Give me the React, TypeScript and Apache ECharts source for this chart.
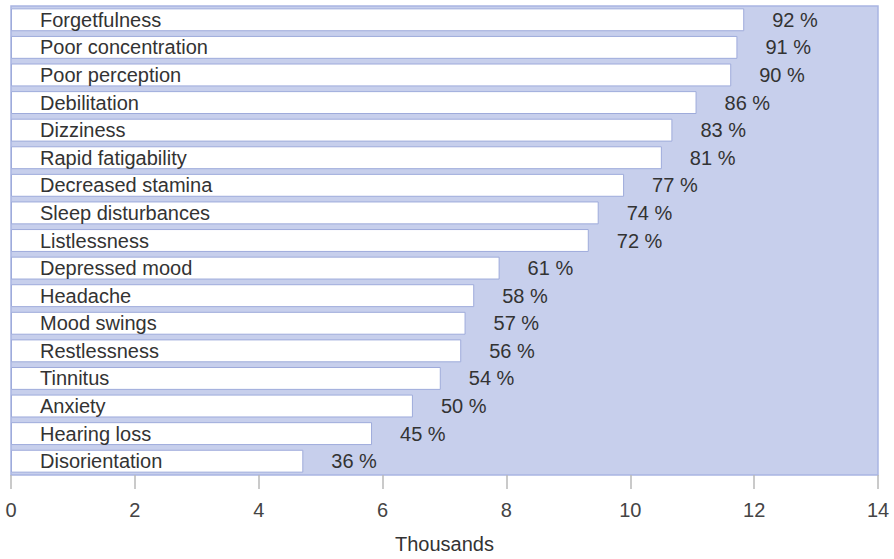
import React, { useEffect, useRef } from "react";
import * as echarts from "echarts";

const categories = [
  "Forgetfulness",
  "Poor concentration",
  "Poor perception",
  "Debilitation",
  "Dizziness",
  "Rapid fatigability",
  "Decreased stamina",
  "Sleep disturbances",
  "Listlessness",
  "Depressed mood",
  "Headache",
  "Mood swings",
  "Restlessness",
  "Tinnitus",
  "Anxiety",
  "Hearing loss",
  "Disorientation",
];

const thousands = [
  11.84, 11.73, 11.63, 11.07, 10.68, 10.51, 9.9, 9.49, 9.33, 7.89, 7.48, 7.34,
  7.27, 6.94, 6.49, 5.83, 4.72,
];

const percents = [92, 91, 90, 86, 83, 81, 77, 74, 72, 61, 58, 57, 56, 54, 50, 45, 36];

const xTicks = [0, 2, 4, 6, 8, 10, 12, 14];

export default function App() {
  const ref = useRef<HTMLDivElement>(null);
  useEffect(() => {
    document.body.style.margin = "0";
    document.body.style.overflow = "hidden";
    if (!ref.current) return;
    const chart = echarts.init(ref.current, null, { renderer: "svg" });
    const font = "Liberation Sans, Arial, sans-serif";
    chart.setOption({
      animation: false,
      textStyle: { fontFamily: font },
      grid: {
        left: 11,
        right: 16,
        top: 6,
        bottom: 67,
        show: true,
        backgroundColor: "#c7cfec",
        borderColor: "#a9b5e2",
        borderWidth: 1.5,
      },
      xAxis: {
        type: "value",
        min: xTicks[0],
        max: xTicks[xTicks.length - 1],
        interval: 2,
        splitLine: { show: false },
        axisLine: { show: false },
        axisTick: { show: true, length: 14, lineStyle: { color: "#b8b8b8", width: 1.5 } },
        axisLabel: { color: "#444", fontSize: 20, margin: 25, fontFamily: font },
        name: "Thousands",
        nameLocation: "middle",
        nameGap: 59,
        nameTextStyle: { color: "#333", fontSize: 20, fontFamily: font },
      },
      yAxis: {
        type: "category",
        data: categories,
        inverse: true,
        axisLine: { show: false },
        axisTick: { show: false },
        axisLabel: { show: false },
        splitLine: { show: false },
      },
      series: [
        {
          type: "bar",
          data: thousands,
          barCategoryGap: "17%",
          itemStyle: { color: "#ffffff", borderColor: "#9eabdb", borderWidth: 1 },
          label: {
            show: true,
            position: "insideLeft",
            distance: 29,
            formatter: (p: any) => categories[p.dataIndex],
            color: "#333",
            fontSize: 20,
            fontFamily: font,
          },
        },
        {
          type: "bar",
          data: thousands,
          barGap: "-100%",
          barCategoryGap: "17%",
          itemStyle: { color: "rgba(0,0,0,0)" },
          label: {
            show: true,
            position: "right",
            distance: 28,
            formatter: (p: any) => percents[p.dataIndex] + " %",
            color: "#333",
            fontSize: 20,
            fontFamily: font,
          },
        },
      ],
    });
    return () => chart.dispose();
  }, []);
  return <div ref={ref} style={{ width: 894, height: 559 }} />;
}
